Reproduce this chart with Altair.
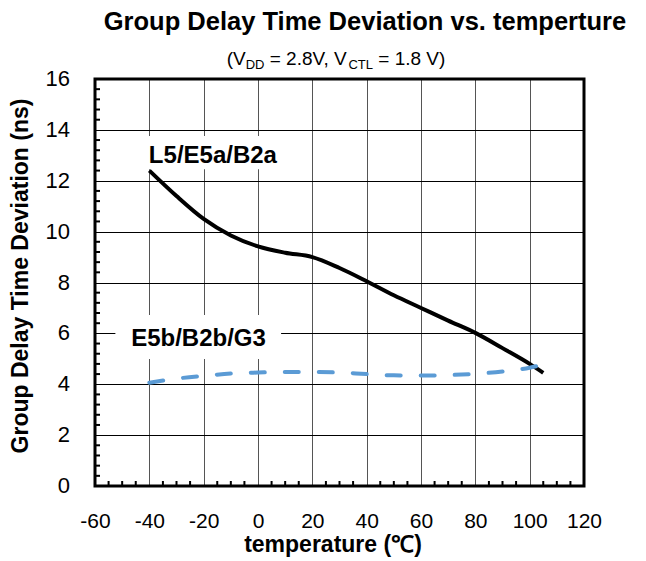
import altair as alt
import pandas as pd

# ---- data ----
temps_black = [-40, -30, -20, -10, 0, 10, 20, 30, 40, 50, 60, 70, 80, 90, 100, 105]
vals_black = [12.4, 11.4, 10.5, 9.85, 9.42, 9.17, 9.0, 8.57, 8.05, 7.5, 7.0, 6.5, 6.02, 5.42, 4.8, 4.45]
temps_blue = [-40, -30, -20, -10, 0, 10, 20, 30, 40, 50, 60, 70, 80, 90, 100, 103]
vals_blue = [4.06, 4.22, 4.33, 4.42, 4.46, 4.48, 4.48, 4.46, 4.40, 4.35, 4.34, 4.36, 4.41, 4.50, 4.65, 4.72]

x_ticks = [-60, -40, -20, 0, 20, 40, 60, 80, 100, 120]
y_ticks = [0, 2, 4, 6, 8, 10, 12, 14, 16]
x_minor = [t for t in range(-60, 121, 5) if t % 20 != 0]
y_minor = [round(i * 0.4, 1) for i in range(41) if i % 5 != 0]

label_text = ["L5/E5a/B2a", "E5b/B2b/G3"]
label_t = [-16.6, -21.9]
label_v = [12.97, 5.78]
box_t1 = [-42.0, -52.5]
box_t2 = [9.5, 8.5]
box_v1 = [12.45, 4.99]
box_v2 = [13.76, 6.72]

FONT = "Liberation Sans"
W, H = 489, 407
BLUE = "#5B9BD5"

xscale = alt.Scale(domain=[-60, 120], nice=False, zero=False)
yscale = alt.Scale(domain=[0, 16], nice=False, zero=False)

df_black = pd.DataFrame({"t": temps_black, "v": vals_black})
df_blue = pd.DataFrame({"t": temps_blue, "v": vals_blue})
df_lab = pd.DataFrame({"text": label_text, "t": label_t, "v": label_v,
                       "t1": box_t1, "t2": box_t2, "v1": box_v1, "v2": box_v2})
df_xm = pd.DataFrame({"t": x_minor})
df_ym = pd.DataFrame({"v": y_minor})
df_yt = pd.DataFrame({"v": y_ticks, "s": [str(v) for v in y_ticks]})
one = pd.DataFrame({"a": [0]})

X_TITLE = "temperature (℃)"
Y_TITLE = "Group Delay Time Deviation (ns)"
x_axis = alt.Axis(values=x_ticks, grid=True, gridColor="#555555", gridWidth=1,
                  ticks=False, domain=False, labelFont=FONT, labelFontSize=21,
                  labelColor="black", labelPadding=24, labelExpr="'' + datum.value",
                  labelOverlap=False, labelFlush=False, title=None)
y_axis = alt.Axis(values=y_ticks, grid=True, gridColor="#000000", gridWidth=1,
                  ticks=False, domain=False, labels=False, title=None)


def X(field):
    return alt.X(field, scale=xscale, axis=x_axis, title=None)


def Y(field):
    return alt.Y(field, scale=yscale, axis=y_axis, title=None)


black = alt.Chart(df_black).mark_line(color="black", strokeWidth=4, interpolate="monotone").encode(
    x=X("t:Q"), y=Y("v:Q"),
)
blue = alt.Chart(df_blue).mark_line(color=BLUE, strokeWidth=4, interpolate="monotone",
                                    strokeDash=[14, 20], strokeCap="round").encode(
    x=X("t:Q"), y=Y("v:Q"),
)
boxes = alt.Chart(df_lab).mark_rect(color="white").encode(
    x=X("t1:Q"), x2="t2:Q", y=Y("v1:Q"), y2="v2:Q",
)
labels = alt.Chart(df_lab).mark_text(font=FONT, fontSize=24, fontWeight="bold", color="black",
                                     align="center", baseline="middle").encode(
    x=X("t:Q"), y=Y("v:Q"), text="text:N",
)
frame = alt.Chart(one).mark_rect(fill=None, stroke="black", strokeWidth=3).encode(
    x=alt.value(0), x2=alt.value(W), y=alt.value(0), y2=alt.value(H)
)
xm = alt.Chart(df_xm).mark_rule(color="black", strokeWidth=2).encode(
    x=X("t:Q"), y=alt.value(H), y2=alt.value(H - 5)
)
ym = alt.Chart(df_ym).mark_rule(color="black", strokeWidth=2).encode(
    y=Y("v:Q"), x=alt.value(0), x2=alt.value(5)
)
ylabels = alt.Chart(df_yt).mark_text(font=FONT, fontSize=22, color="black",
                                     align="right", baseline="middle").encode(
    y=Y("v:Q"), x=alt.value(-25), text="s:N"
)
ytitle = alt.Chart(one).mark_text(text=Y_TITLE, font=FONT, fontSize=23, fontWeight="bold",
                                  color="black", angle=270, align="center",
                                  baseline="middle").encode(
    x=alt.value(-74), y=alt.value(197)
)
xtitle = alt.Chart(one).mark_text(text=X_TITLE, font=FONT, fontSize=23, fontWeight="bold",
                                  color="black", align="center", baseline="middle").encode(
    x=alt.value(238), y=alt.value(466)
)

title = alt.Chart(one).mark_text(text="Group Delay Time Deviation vs. temperture", font=FONT,
                                 fontSize=25.5, fontWeight="bold", color="black",
                                 align="center", baseline="alphabetic").encode(
    x=alt.value(270), y=alt.value(-49)
)

# subtitle with subscripts (pieces placed side by side; spaces added as offsets)
NB = "\u00a0"
ADV = {"(": 333, ")": 333, "V": 667, "D": 722, NB: 278, "=": 584, "2": 556, ".": 278,
       "8": 556, ",": 278, "C": 722, "T": 611, "L": 556, "1": 556}
S_MAIN, S_SUB = 19, 13
SPACE = 278 * S_MAIN / 1000
parts = [("(V", S_MAIN, 0, 0), ("DD", S_SUB, 4, SPACE), ("=" + NB + "2.8V," + NB + "V", S_MAIN, 0, 0),
         ("CTL", S_SUB, 4, SPACE), ("=" + NB + "1.8" + NB + "V)", S_MAIN, 0, 0)]
widths = [sum(ADV[c] for c in p) * s / 1000 + gap for p, s, _, gap in parts]
total = sum(widths)
cx, base_y = 241, -14
x0 = cx - total / 2
sub_layers = []
for (p, s, dy, gap), w in zip(parts, widths):
    sub_layers.append(alt.Chart(one).mark_text(text=p, font=FONT, fontSize=s, color="black",
                                               align="left", baseline="alphabetic").encode(
        x=alt.value(x0), y=alt.value(base_y + dy)))
    x0 += w

chart = alt.layer(boxes, labels, black, blue, frame, xm, ym, ylabels, ytitle, xtitle, title,
                  *sub_layers).properties(
    width=W, height=H,
    padding={"left": 87, "top": 71, "right": 54, "bottom": 75},
    autosize=alt.AutoSizeParams(type="none"),
).configure_view(stroke=None).configure(background="white")

chart.save("out.html", embed_options={"renderer": "svg", "actions": False})
